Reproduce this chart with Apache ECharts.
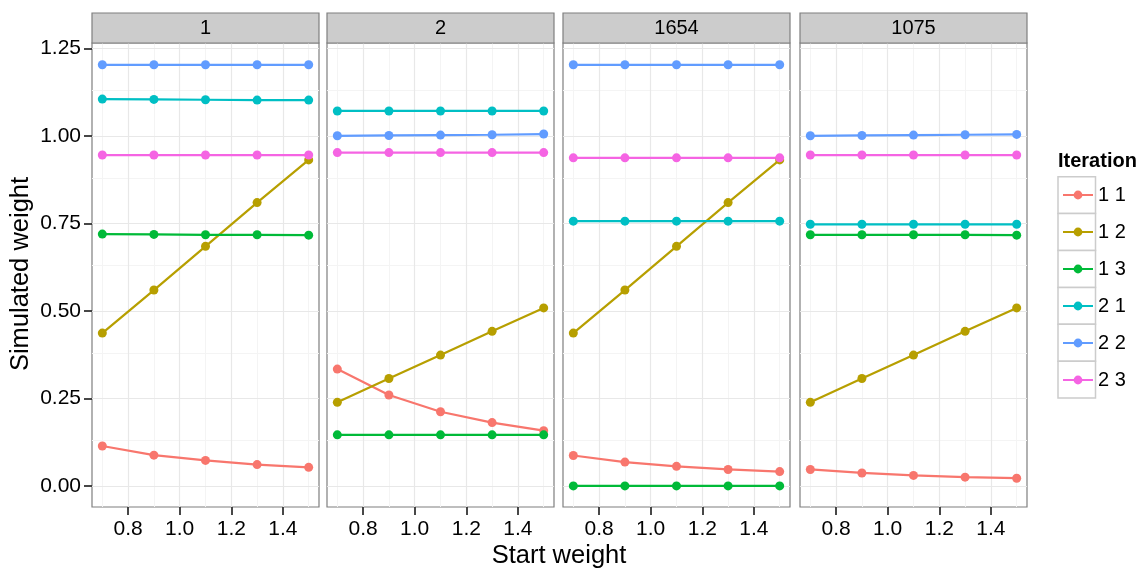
<!DOCTYPE html>
<html>
<head>
<meta charset="utf-8">
<script src="https://cdn.jsdelivr.net/npm/echarts@6/dist/echarts.min.js"></script>
<style>
html,body{margin:0;padding:0;background:#fff;}
#chart{width:1144px;height:578px;}
</style>
</head>
<body>
<div id="chart"></div>
<script>
// ---------- data ----------
const startWeights = [0.7, 0.9, 1.1, 1.3, 1.5];
const panelLabels = ['1', '2', '1654', '1075'];
const iterationNames = ['1 1', '1 2', '1 3', '2 1', '2 2', '2 3'];
const iterationColors = ['#F8766D', '#B79F00', '#00BA38', '#00BFC4', '#619CFF', '#F564E3'];

// values per panel, one row per iteration (same order as iterationNames)
const panel1Values = [
  [0.114, 0.088, 0.073, 0.061, 0.053],
  [0.437, 0.560, 0.685, 0.810, 0.932],
  [0.720, 0.719, 0.718, 0.718, 0.717],
  [1.106, 1.105, 1.104, 1.103, 1.103],
  [1.204, 1.204, 1.204, 1.204, 1.204],
  [0.946, 0.946, 0.946, 0.946, 0.946]
];
const panel2Values = [
  [0.334, 0.260, 0.212, 0.181, 0.158],
  [0.239, 0.307, 0.374, 0.442, 0.509],
  [0.146, 0.146, 0.146, 0.146, 0.146],
  [1.072, 1.072, 1.072, 1.072, 1.072],
  [1.001, 1.002, 1.003, 1.004, 1.006],
  [0.953, 0.953, 0.953, 0.953, 0.953]
];
const panel3Values = [
  [0.087, 0.068, 0.056, 0.047, 0.041],
  [0.437, 0.560, 0.685, 0.810, 0.932],
  [0.000, 0.000, 0.000, 0.000, 0.000],
  [0.757, 0.757, 0.757, 0.757, 0.757],
  [1.204, 1.204, 1.204, 1.204, 1.204],
  [0.938, 0.938, 0.938, 0.938, 0.938]
];
const panel4Values = [
  [0.047, 0.037, 0.030, 0.025, 0.022],
  [0.239, 0.307, 0.374, 0.442, 0.509],
  [0.718, 0.718, 0.718, 0.718, 0.717],
  [0.748, 0.748, 0.748, 0.748, 0.748],
  [1.001, 1.002, 1.003, 1.004, 1.005],
  [0.946, 0.946, 0.946, 0.946, 0.946]
];
const allPanels = [panel1Values, panel2Values, panel3Values, panel4Values];

const xTicks = [0.8, 1.0, 1.2, 1.4];
const xMinorTicks = [0.7, 0.9, 1.1, 1.3, 1.5];
const yTicks = [0, 0.25, 0.5, 0.75, 1.0, 1.25];
const yMinorTicks = [0.125, 0.375, 0.625, 0.875, 1.125];
const xRange = [0.66, 1.54];
const yRange = [-0.0603, 1.2663];

// ---------- layout ----------
const FONT = 'Liberation Sans, Arial, Helvetica, sans-serif';
const panelLeft = [92, 327, 563, 800];
const panelWidth = 227;
const panelTop = 43;
const panelHeight = 464;

const grids = [], xAxes = [], yAxes = [], series = [], graphics = [];

panelLeft.forEach((left, p) => {
  grids.push({
    left: left, top: panelTop, width: panelWidth, height: panelHeight,
    show: true, backgroundColor: '#ffffff', borderColor: '#7f7f7f', borderWidth: 1.2,
    containLabel: false
  });
  xAxes.push({
    type: 'value', gridIndex: p, min: xRange[0], max: xRange[1], position: 'bottom',
    axisLine: { show: false, onZero: false },
    splitLine: { show: false },
    axisTick: { show: true, customValues: xTicks, length: 8, lineStyle: { color: '#333', width: 1.8 } },
    axisLabel: { show: true, customValues: xTicks, margin: 12, fontSize: 21, color: '#000', fontFamily: FONT,
      formatter: v => Number(v).toFixed(1) }
  });
  yAxes.push({
    type: 'value', gridIndex: p, min: yRange[0], max: yRange[1], position: 'left',
    axisLine: { show: false, onZero: false },
    splitLine: { show: false },
    axisTick: { show: p === 0, customValues: yTicks, length: 8, lineStyle: { color: '#333', width: 1.8 } },
    axisLabel: { show: p === 0, customValues: yTicks, margin: 11, fontSize: 21, color: '#000', fontFamily: FONT,
      formatter: v => Number(v).toFixed(2) }
  });
  // grid lines (drawn with the axes' scales)
  series.push({
    type: 'line', xAxisIndex: p, yAxisIndex: p, data: [], silent: true, z: 1,
    markLine: {
      silent: true, symbol: 'none', z: 1, animation: false,
      label: { show: false },
      data: [
        ...yMinorTicks.map(v => ({ yAxis: v, lineStyle: { color: '#f4f4f4', width: 1, type: 'solid' } })),
        ...xMinorTicks.map(v => ({ xAxis: v, lineStyle: { color: '#f4f4f4', width: 1, type: 'solid' } })),
        ...yTicks.map(v => ({ yAxis: v, lineStyle: { color: '#e8e8e8', width: 1.2, type: 'solid' } })),
        ...xTicks.map(v => ({ xAxis: v, lineStyle: { color: '#e8e8e8', width: 1.2, type: 'solid' } }))
      ]
    }
  });
  allPanels[p].forEach((vals, i) => {
    series.push({
      name: iterationNames[i], type: 'line', xAxisIndex: p, yAxisIndex: p, z: 3,
      data: startWeights.map((x, k) => [x, vals[k]]),
      symbol: 'circle', symbolSize: 9, showSymbol: true,
      lineStyle: { color: iterationColors[i], width: 2.2 },
      itemStyle: { color: iterationColors[i] },
      animation: false
    });
  });
  // facet strip
  graphics.push({
    type: 'rect', shape: { x: left, y: 13, width: panelWidth, height: 30 },
    style: { fill: '#cccccc', stroke: '#7f7f7f', lineWidth: 1.2 }, z: 5
  });
  graphics.push({
    type: 'text', x: left + panelWidth / 2, y: 28.5,
    style: { text: panelLabels[p], fill: '#000', font: '20px ' + FONT, align: 'center', verticalAlign: 'middle' }, z: 6
  });
});

// axis titles
graphics.push({
  type: 'text', x: 559, y: 556,
  style: { text: 'Start weight', fill: '#000', font: '25.5px ' + FONT, align: 'center', verticalAlign: 'middle' }
});
graphics.push({
  type: 'text', x: 21, y: 274, rotation: Math.PI / 2,
  style: { text: 'Simulated weight', fill: '#000', font: '25.5px ' + FONT, align: 'center', verticalAlign: 'middle' }
});
// legend title and key boxes
graphics.push({
  type: 'text', x: 1058, y: 161,
  style: { text: 'Iteration', fill: '#000', font: 'bold 20px ' + FONT, align: 'left', verticalAlign: 'middle' }
});
iterationNames.forEach((n, i) => {
  graphics.push({
    type: 'rect', shape: { x: 1058, y: 176.7 + i * 36.9, width: 37.5, height: 36.9 },
    style: { fill: '#ffffff', stroke: '#cccccc', lineWidth: 1.5 }, z: 0
  });
});

const option = {
  backgroundColor: '#ffffff',
  animation: false,
  grid: grids,
  xAxis: xAxes,
  yAxis: yAxes,
  series: series,
  legend: {
    data: iterationNames,
    orient: 'vertical', left: 1062, top: 185, padding: 0,
    itemWidth: 30, itemHeight: 11, itemGap: 17,
    selectedMode: false,
    textStyle: { fontSize: 20, color: '#000', fontFamily: FONT, lineHeight: 20 }
  },
  graphic: { elements: graphics }
};

const chart = echarts.init(document.getElementById('chart'), null, { renderer: 'canvas' });
chart.setOption(option);
</script>
</body>
</html>
